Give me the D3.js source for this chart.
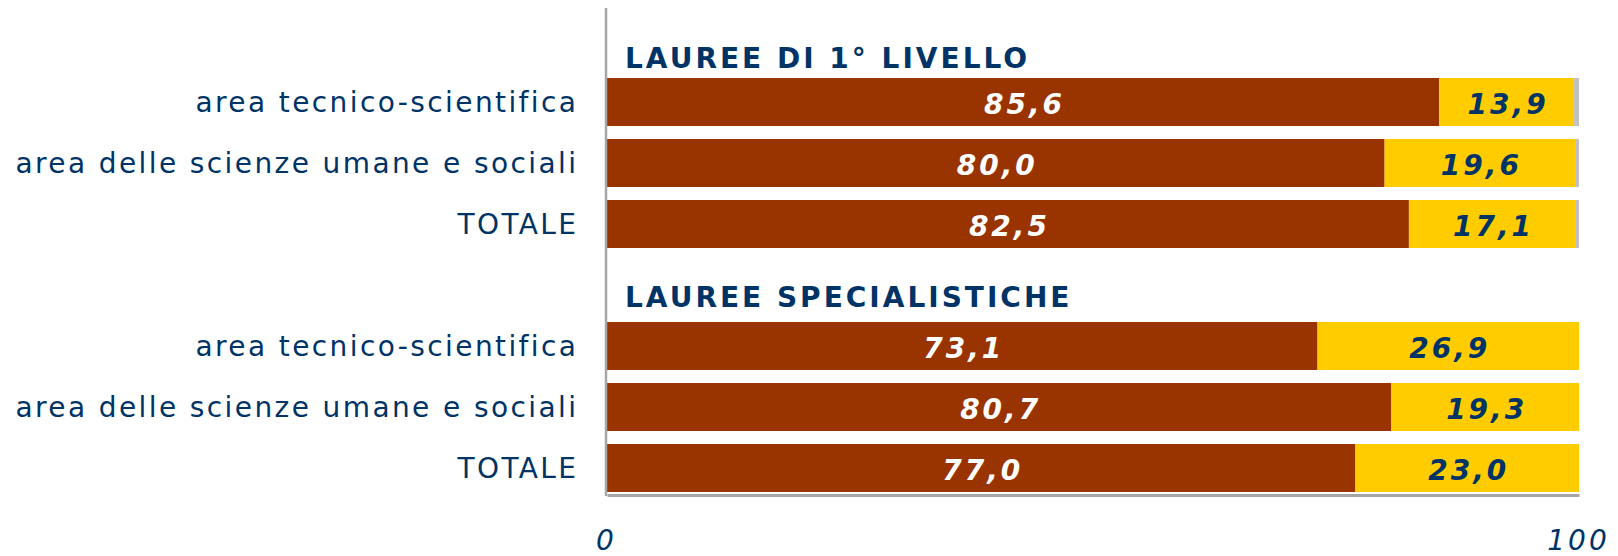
<!DOCTYPE html>
<html>
<head>
<meta charset="utf-8">
<script src="https://cdn.jsdelivr.net/npm/d3@7"></script>
<style>
  html, body { margin: 0; padding: 0; background: #ffffff; }
  svg { display: block; }
</style>
</head>
<body>
<svg id="chart" width="1618" height="556"></svg>
<script>
// ---- data ----
const groups = ["LAUREE DI 1° LIVELLO", "LAUREE SPECIALISTICHE"];
const categories = [
  "area tecnico-scientifica",
  "area delle scienze umane e sociali",
  "TOTALE",
  "area tecnico-scientifica",
  "area delle scienze umane e sociali",
  "TOTALE"
];
const categoryGroup = [0, 0, 0, 1, 1, 1];
const seriesA = [85.6, 80.0, 82.5, 73.1, 80.7, 77.0];   // brown
const seriesB = [13.9, 19.6, 17.1, 26.9, 19.3, 23.0];   // yellow
const seriesC = [0.5, 0.4, 0.4, 0.0, 0.0, 0.0];         // grey remainder
const tickValues = [0, 100];

// ---- styles ----
const NAVY = "#003366";
const BROWN = "#993300";
const YELLOW = "#FFCC00";
const GREY = "#C0C0C0";
const AXIS = "#A6A6A6";

const svg = d3.select("#chart");

// slot keys: group headers interleaved with rows
const slots = [];
const rowKey = i => "r" + i;
groups.forEach((g, gi) => {
  slots.push("g" + gi);
  categories.forEach((c, i) => { if (categoryGroup[i] === gi) slots.push(rowKey(i)); });
});

const x = d3.scaleLinear().domain([0, 100]).range([607, 1579]);
const y = d3.scaleBand().domain(slots).range([17, 492]).paddingInner(13 / 61).paddingOuter(0);

const rows = categories.map((c, i) => ({ key: rowKey(i), a: seriesA[i], b: seriesB[i], c: seriesC[i] }));
const stack = d3.stack().keys(["a", "b", "c"]);
const layers = stack(rows);
const colors = { a: BROWN, b: YELLOW, c: GREY };

const locale = d3.formatLocale({ decimal: ",", thousands: ".", grouping: [3], currency: ["", "€"] });
const fmt = locale.format(".1f");

// bars
svg.append("g").selectAll("g")
  .data(layers)
  .join("g")
  .attr("fill", d => colors[d.key])
  .selectAll("rect")
  .data(d => d.filter(s => s[1] - s[0] > 0))
  .join("rect")
  .attr("x", d => x(d[0]))
  .attr("y", d => y(d.data.key))
  .attr("width", d => x(d[1]) - x(d[0]))
  .attr("height", y.bandwidth());

// value labels
const LS = 3;
const valueLayers = layers.filter(l => l.key !== "c");
svg.append("g").selectAll("g")
  .data(valueLayers)
  .join("g")
  .attr("fill", d => d.key === "a" ? "#ffffff" : NAVY)
  .selectAll("text")
  .data(d => d.map(s => ({ s, key: d.key })))
  .join("text")
  .attr("x", d => (x(d.s[0]) + x(d.s[1])) / 2 + LS / 2)
  .attr("y", d => y(d.s.data.key) + y.bandwidth() / 2 + 12)
  .attr("text-anchor", "middle")
  .attr("font-family", "'DejaVu Sans', sans-serif")
  .attr("font-weight", "bold")
  .attr("font-style", "italic")
  .attr("font-size", 28)
  .attr("letter-spacing", LS)
  .text(d => fmt(d.s[1] - d.s[0]));

// category labels
const LS2 = 2.4;
svg.append("g").selectAll("text")
  .data(categories.map((c, i) => ({ c, key: rowKey(i) })))
  .join("text")
  .attr("x", 576 + LS2)
  .attr("y", d => y(d.key) + y.bandwidth() / 2 + 10)
  .attr("text-anchor", "end")
  .attr("font-family", "'DejaVu Sans', sans-serif")
  .attr("font-size", 28)
  .attr("letter-spacing", LS2)
  .attr("fill", NAVY)
  .text(d => d.c);

// group headers
const headerOffsets = [10, 15];
svg.append("g").selectAll("text")
  .data(groups.map((g, gi) => ({ g, gi })))
  .join("text")
  .attr("x", 625)
  .attr("y", d => y(slots[slots.indexOf("g" + d.gi) + 1]) - headerOffsets[d.gi])
  .attr("font-family", "'DejaVu Sans', sans-serif")
  .attr("font-weight", "bold")
  .attr("font-size", 28)
  .attr("letter-spacing", 3)
  .attr("fill", NAVY)
  .text(d => d.g);

// vertical axis line
svg.append("line")
  .attr("x1", 606).attr("x2", 606)
  .attr("y1", 8).attr("y2", 496)
  .attr("stroke", AXIS)
  .attr("stroke-width", 2.5);

// bottom axis
const xAxis = d3.axisBottom(x).tickValues(tickValues).tickSize(0).tickPadding(35)
  .tickFormat(d3.format("d"));
const gx = svg.append("g")
  .attr("transform", "translate(0,495)")
  .call(xAxis);
gx.select(".domain").attr("stroke", AXIS).attr("stroke-width", 3);
gx.selectAll("text")
  .attr("font-family", "'DejaVu Sans', sans-serif")
  .attr("font-style", "italic")
  .attr("font-size", 28)
  .attr("letter-spacing", 3)
  .attr("fill", NAVY)
  .attr("dx", -1);
</script>
</body>
</html>
